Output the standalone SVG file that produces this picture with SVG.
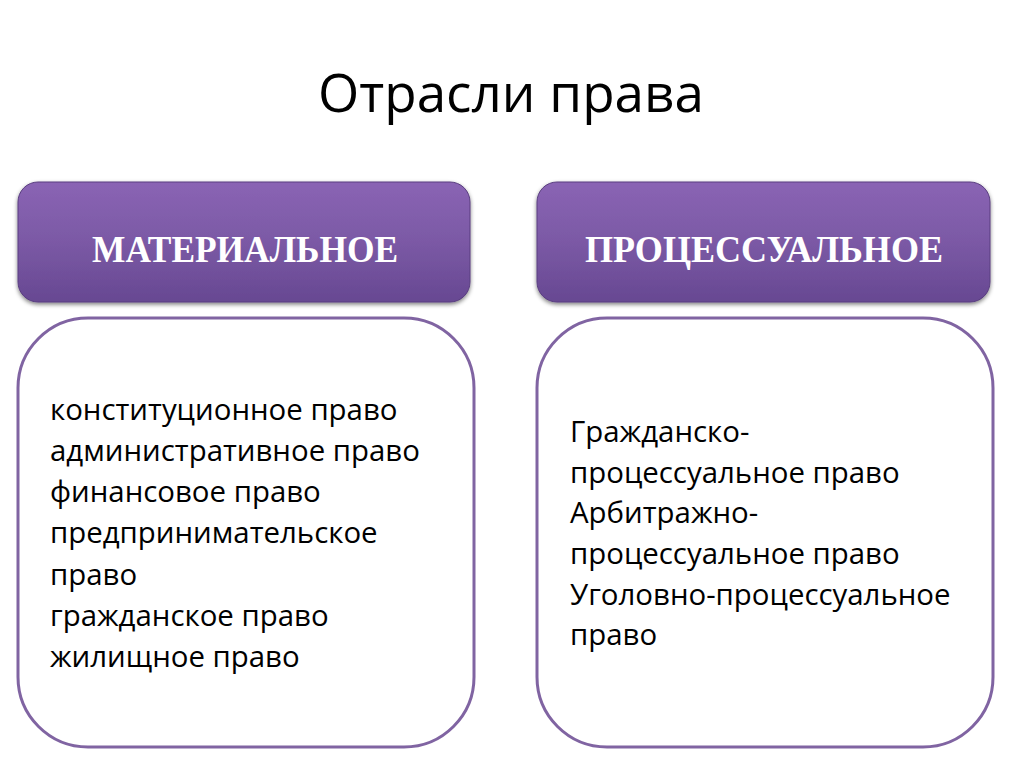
<svg xmlns="http://www.w3.org/2000/svg" width="1024" height="767" viewBox="0 0 1024 767">
<defs>
<linearGradient id="hdr" x1="0" y1="0" x2="0" y2="1">
<stop offset="0" stop-color="#8a64b4"/>
<stop offset="0.5" stop-color="#7b59a5"/>
<stop offset="1" stop-color="#674892"/>
</linearGradient>
<filter id="sh" x="-5%" y="-10%" width="110%" height="125%">
<feGaussianBlur in="SourceAlpha" stdDeviation="2"/>
<feOffset dx="0" dy="2"/>
<feComponentTransfer><feFuncA type="linear" slope="0.5"/></feComponentTransfer>
<feMerge><feMergeNode/><feMergeNode in="SourceGraphic"/></feMerge>
</filter>
</defs>
<style>
.title{font-family:"Open Sans","Liberation Sans",sans-serif;font-size:53px;fill:#000}
.hdr{fill:url(#hdr);stroke:#5a3f80;stroke-width:1;filter:url(#sh)}
.htxt{font-family:"Liberation Serif","DejaVu Serif",serif;font-weight:bold;font-size:37px;fill:#fff;text-anchor:middle}
.box{fill:#fff;stroke:#8064a2;stroke-width:3}
.item{font-family:"Open Sans","Liberation Sans",sans-serif;font-size:29.4px;fill:#000}
</style>
<rect width="1024" height="767" fill="#fff"/>
<text class="title" x="511" y="112" text-anchor="middle">Отрасли права</text>
<g id="connectors"/>
<g id="material-header">
<rect class="hdr" x="18" y="182" width="452" height="120" rx="20" ry="20"/>
<text class="htxt" x="245" y="262" textLength="306" lengthAdjust="spacingAndGlyphs">МАТЕРИАЛЬНОЕ</text>
</g>
<g id="process-header">
<rect class="hdr" x="537" y="182" width="453" height="120" rx="20" ry="20"/>
<text class="htxt" x="764" y="262" textLength="358" lengthAdjust="spacingAndGlyphs">ПРОЦЕССУАЛЬНОЕ</text>
</g>
<g id="material-list">
<rect class="box" x="18" y="318" width="456" height="429" rx="70" ry="70"/>
<text class="item" x="50" y="420">конституционное право</text>
<text class="item" x="50" y="461">административное право</text>
<text class="item" x="50" y="502">финансовое право</text>
<text class="item" x="50" y="543">предпринимательское</text>
<text class="item" x="50" y="585">право</text>
<text class="item" x="50" y="626">гражданское право</text>
<text class="item" x="50" y="667">жилищное право</text>
</g>
<g id="process-list">
<rect class="box" x="537" y="318" width="456" height="429" rx="70" ry="70"/>
<text class="item" x="570" y="442">Гражданско-</text>
<text class="item" x="570" y="483">процессуальное право</text>
<text class="item" x="570" y="523">Арбитражно-</text>
<text class="item" x="570" y="564">процессуальное право</text>
<text class="item" x="570" y="605">Уголовно-процессуальное</text>
<text class="item" x="570" y="645">право</text>
</g>
</svg>
